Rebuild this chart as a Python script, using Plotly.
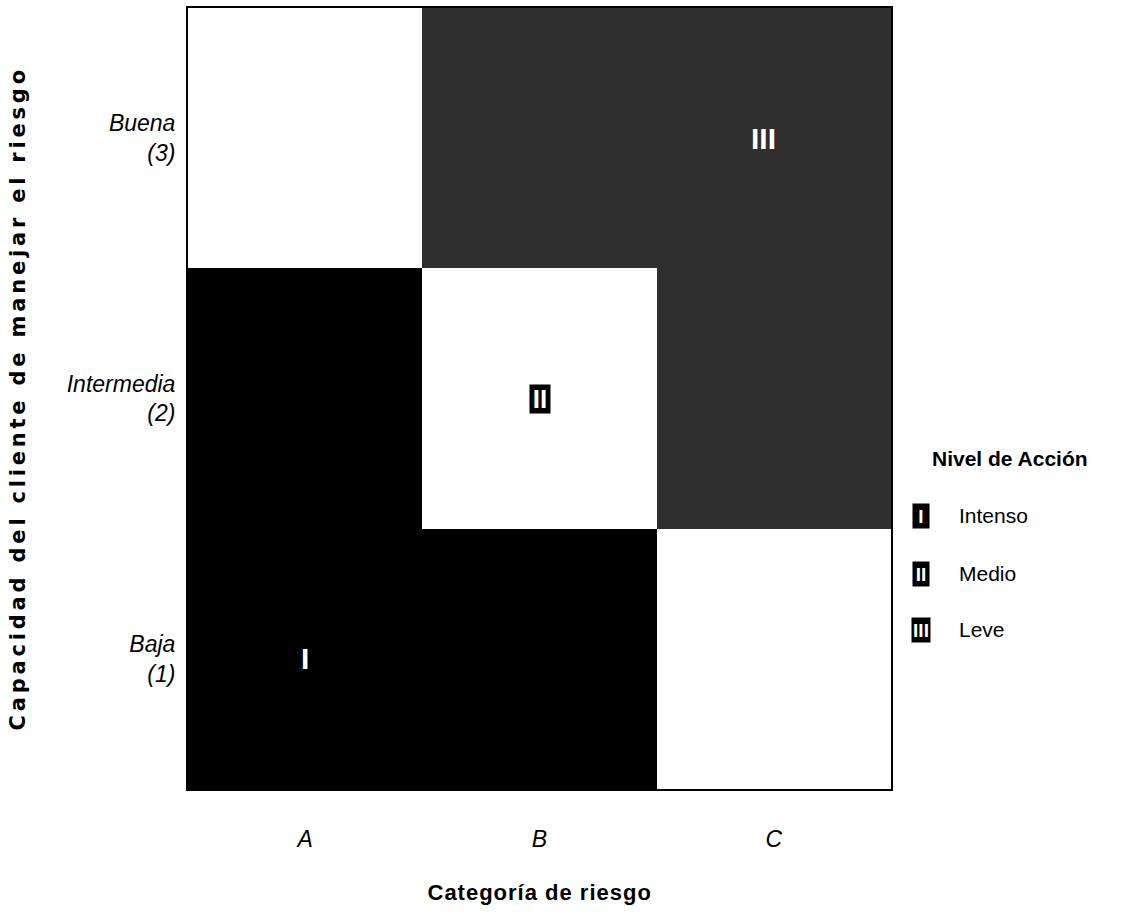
import plotly.graph_objects as go

# --- data ---
categorias = ["A", "B", "C"]
capacidad = ["Baja", "Intermedia", "Buena"]
capacidad_ticks = ["Baja<br>(1)", "Intermedia<br>(2)", "Buena<br>(3)"]
# nivel de acción: 1 = Intenso (I), 2 = Medio (II), 3 = Leve (III)
nivel = [
    [1, 1, 2],   # Baja
    [1, 2, 3],   # Intermedia
    [2, 3, 3],   # Buena
]
etiquetas_celda = [("A", "Baja", "I"), ("B", "Intermedia", "II"), ("C", "Buena", "III")]
leyenda_num = ["I", "II", "III"]
leyenda_txt = ["Intenso", "Medio", "Leve"]

NARROW = "Liberation Sans Narrow, Arial Narrow, Liberation Sans, sans-serif"

colorscale = [
    [0.0, "#000000"], [0.333, "#000000"],
    [0.333, "#ffffff"], [0.667, "#ffffff"],
    [0.667, "#2e2e2e"], [1.0, "#2e2e2e"],
]

fig = go.Figure()
fig.add_trace(go.Heatmap(
    x=categorias, y=capacidad, z=nivel,
    zmin=1, zmax=3, colorscale=colorscale, showscale=False,
    hoverinfo="skip",
))

anns = []
for cx, cy, lab in etiquetas_celda:
    boxed = lab == "II"
    a = dict(
        x=cx, y=cy, xref="x", yref="y", text=f"<b>{lab}</b>", showarrow=False,
        xanchor="center", yanchor="middle",
        font=dict(family=NARROW, size=30, color="white"),
    )
    if boxed:
        a.update(bgcolor="black", borderpad=1, width=18, height=26,
                 font=dict(family=NARROW, size=26, color="white"))
    if lab == "III":
        a.update(xshift=-10)
    anns.append(a)

# legend (manual)
anns.append(dict(x=1.0555, y=0.4238, xref="paper", yref="paper", xanchor="left", yanchor="middle",
                 text="<b>Nivel de Acción</b>", showarrow=False,
                 font=dict(family=NARROW, size=21, color="black")))
leg_y = [0.3496, 0.2753, 0.2036]
for num, txt, yy in zip(leyenda_num, leyenda_txt, leg_y):
    anns.append(dict(x=1.0427, y=yy, xref="paper", yref="paper", xanchor="center", yanchor="middle",
                     text=f"<b>{num}</b>", showarrow=False, bgcolor="black", borderpad=1,
                     width=14 if num != "III" else 16, height=22,
                     font=dict(family=NARROW, size=19, color="white")))
    anns.append(dict(x=1.094, y=yy, xref="paper", yref="paper", xanchor="left", yanchor="middle",
                     text=txt, showarrow=False,
                     font=dict(family=NARROW, size=21, color="black")))

# axis titles
anns.append(dict(x=0.5, y=-0.133, xref="paper", yref="paper", xanchor="center", yanchor="middle",
                 text="<b>Categoría de riesgo</b>", showarrow=False,
                 font=dict(family=NARROW, size=22, color="black")))
anns.append(dict(x=-0.243, y=0.5, xref="paper", yref="paper", xanchor="center", yanchor="middle",
                 textangle=-90,
                 text="<b>Capacidad del cliente de manejar el riesgo</b>", showarrow=False,
                 font=dict(family="DejaVu Sans, sans-serif", size=21, color="black")))

fig.update_layout(
    width=1135, height=913,
    margin=dict(l=188, r=244, t=6, b=124),
    paper_bgcolor="white", plot_bgcolor="white",
    annotations=anns,
    xaxis=dict(showgrid=False, zeroline=False, showline=True, mirror=True,
               linecolor="black", linewidth=2, ticks="", ticklabelstandoff=28,
               tickfont=dict(family=NARROW, size=23, color="black", style="italic")),
    yaxis=dict(showgrid=False, zeroline=False, showline=True, mirror=True,
               linecolor="black", linewidth=2, ticks="", ticklabelstandoff=6,
               tickvals=capacidad, ticktext=capacidad_ticks,
               tickfont=dict(family=NARROW, size=23, color="black", style="italic")),
)

post = """
document.body.style.margin = '0';
document.querySelectorAll('text.annotation-text').forEach(function(t){
  if (t.textContent.indexOf('Capacidad') === 0) { t.style.letterSpacing = '3.8px'; }
  if (t.textContent.indexOf('Categor') === 0) { t.style.letterSpacing = '1px'; }
});
"""

fig.write_html("out.html", post_script=post, config={"displayModeBar": False})
